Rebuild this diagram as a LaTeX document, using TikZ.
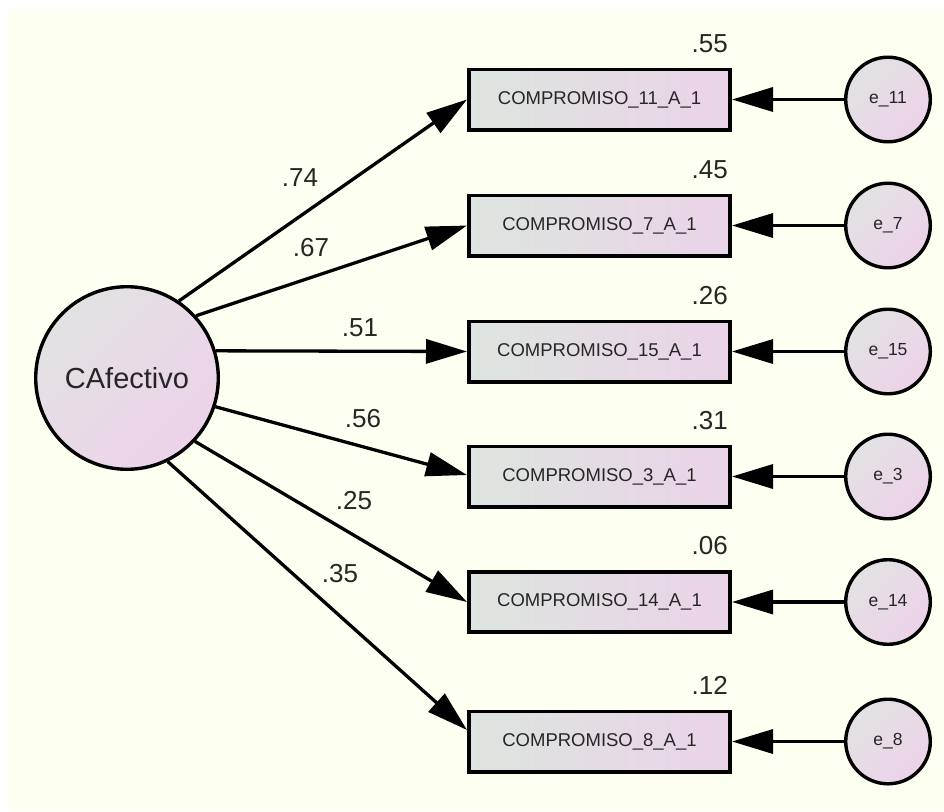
\documentclass[tikz,border=0pt]{standalone}
\usepackage{fontspec}
\setmainfont{Liberation Sans}
\usetikzlibrary{arrows.meta}

\definecolor{paper}{HTML}{FDFFF0}
\definecolor{ink}{HTML}{262626}
\definecolor{boxleft}{HTML}{DCE5DF}
\definecolor{boxright}{HTML}{EBD3E8}
\definecolor{ballgray}{HTML}{E2E2E2}
\definecolor{ballpink}{HTML}{EDD2E9}

\tikzset{
  latent/.style={circle, draw=black, line width=3.4pt, minimum size=182.6pt, inner sep=0pt,
    top color=ballgray, bottom color=ballpink, shading angle=45,
    text=ink, font=\fontsize{29pt}{31pt}\selectfont},
  errvar/.style={circle, draw=black, line width=3.4pt, minimum size=84.6pt, inner sep=0pt,
    top color=ballgray, bottom color=ballpink, shading angle=45,
    text=ink, font=\fontsize{17.5pt}{19pt}\selectfont},
  observed/.style={rectangle, draw=black, line width=3.6pt, minimum width=261.4pt, minimum height=60.4pt,
    inner sep=0pt, left color=boxleft, right color=boxright,
    text=ink, font=\fontsize{18.5pt}{20pt}\selectfont},
  path/.style={line width=3.3pt, -{Triangle[length=41pt,width=24pt]}},
  coef/.style={inner sep=0pt, text=ink, font=\fontsize{26pt}{28pt}\selectfont},
  rsq/.style={coef, anchor=base east},
}

\begin{document}
\begin{tikzpicture}[x=1pt, y=-1pt]
  \useasboundingbox (0,0) rectangle (944,811);
  \fill[white] (0,0) rectangle (944,811);
  \fill[paper] (8,9) rectangle (944,811);

  % latent factor
  \node[latent] (F) at (127,378) {CAfectivo};

  % indicators
  \node[observed] (b1) at (599.5,99.5)  {COMPROMISO\_11\_A\_1};
  \node[observed] (b2) at (599.5,225.5) {COMPROMISO\_7\_A\_1};
  \node[observed] (b3) at (599.5,351.5) {COMPROMISO\_15\_A\_1};
  \node[observed] (b4) at (599.5,476.5) {COMPROMISO\_3\_A\_1};
  \node[observed] (b5) at (599.5,602)   {COMPROMISO\_14\_A\_1};
  \node[observed] (b6) at (599.5,741.5) {COMPROMISO\_8\_A\_1};

  % error terms
  \node[errvar] (e1) at (888,99.5)  {e\_11};
  \node[errvar] (e2) at (888,225.5) {e\_7};
  \node[errvar] (e3) at (888,351.5) {e\_15};
  \node[errvar] (e4) at (888,476.5) {e\_3};
  \node[errvar] (e5) at (888,602)   {e\_14};
  \node[errvar] (e6) at (888,741.5) {e\_8};

  % factor loadings
  \draw[path] (F.56)  -- (b1.west);
  \draw[path] (F.42)  -- (b2.west);
  \draw[path] (F.17)  -- (b3.west);
  \draw[path] (F.-18) -- ([yshift=1.5pt]b4.west);
  \draw[path] (F.-43) -- (b5.west);
  \draw[path] (F.-64) -- ([yshift=11.5pt]b6.west);

  % error paths
  \foreach \i in {1,...,6} {
    \draw[path] (e\i.west) -- (b\i.east);
  }

  % standardized loadings
  \node[coef] (l1) at (300,178) {.74};
  \node[coef] (l2) at (311,248) {.67};
  \node[coef] (l3) at (360,328) {.51};
  \node[coef] (l4) at (363,419) {.56};
  \node[coef] (l5) at (354,501) {.25};
  \node[coef] (l6) at (340,574) {.35};

  % squared multiple correlations
  \node[rsq] (r1) at (728,52)  {.55};
  \node[rsq] (r2) at (728,178) {.45};
  \node[rsq] (r3) at (728,304) {.26};
  \node[rsq] (r4) at (728,429) {.31};
  \node[rsq] (r5) at (728,554.5) {.06};
  \node[rsq] (r6) at (728,694) {.12};
\end{tikzpicture}
\end{document}
